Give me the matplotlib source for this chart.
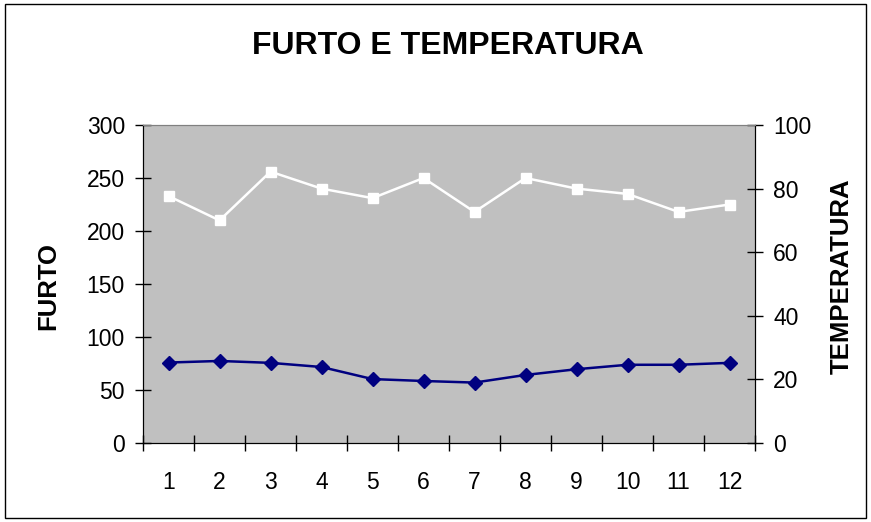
import matplotlib.pyplot as plt
from matplotlib.patches import Rectangle
import numpy as np

plt.rcParams['font.family'] = ['Liberation Sans', 'DejaVu Sans']

# data
mesi = [1, 2, 3, 4, 5, 6, 7, 8, 9, 10, 11, 12]
furto = [233, 210, 256, 240, 231, 250, 218, 250, 240, 235, 218, 225]
temperatura = [25.3, 25.8, 25.2, 23.9, 20.1, 19.5, 19.0, 21.4, 23.2, 24.6, 24.6, 25.2]

fig = plt.figure(figsize=(8.71, 5.22), dpi=100)
fig.patches.append(Rectangle((5 / 871, 4 / 522), 861 / 871, 514 / 522,
                             transform=fig.transFigure, fill=False,
                             edgecolor='black', linewidth=1))

ax = fig.add_axes([143 / 871, 1 - 443 / 522, 612 / 871, 318 / 522])
ax.set_facecolor('#c0c0c0')
ax2 = ax.twinx()

ax.plot(mesi, furto, color='white', lw=1.8, marker='s', ms=7.5,
        mec='white', mfc='white', zorder=3)
ax2.plot(mesi, temperatura, color='#000080', lw=1.8, marker='D', ms=7,
         mec='#000080', mfc='#000080', zorder=3)

ax.set_xlim(0.5, 12.5)
ax.set_ylim(0, 300)
ax2.set_ylim(0, 100)
ax.set_yticks(np.arange(0, 301, 50))
ax2.set_yticks(np.arange(0, 101, 20))

ax.set_xticks(np.arange(0.5, 12.6, 1))
ax.set_xticklabels([])
ax.set_xticks(mesi, minor=True)
ax.set_xticklabels([str(m) for m in mesi], minor=True)
ax.tick_params(axis='x', which='major', direction='inout', length=12, width=1)
ax.tick_params(axis='x', which='minor', length=0, pad=20, labelsize=16.5)
ax.tick_params(axis='y', direction='inout', length=12, width=1, labelsize=16.5, pad=7)
ax2.tick_params(axis='y', direction='inout', length=12, width=1, labelsize=16.5, pad=7)

for s in ['left', 'bottom', 'right']:
    ax2.spines[s].set_color('black')
    ax.spines[s].set_color('black')
ax.spines['top'].set_color('#808080')
ax2.spines['top'].set_color('#808080')

fig.text(48 / 871, 1 - 286 / 522, 'FURTO', fontsize=18.5, fontweight='bold',
         rotation=90, ha='center', va='center')
fig.text(842 / 871, 1 - 276 / 522, 'TEMPERATURA', fontsize=18.5, fontweight='bold',
         rotation=90, ha='center', va='center')

fig.text(448 / 871, 1 - 46 / 522, 'FURTO E TEMPERATURA', fontsize=23,
         fontweight='bold', ha='center', va='center')

fig.savefig('out.png', dpi=100)
